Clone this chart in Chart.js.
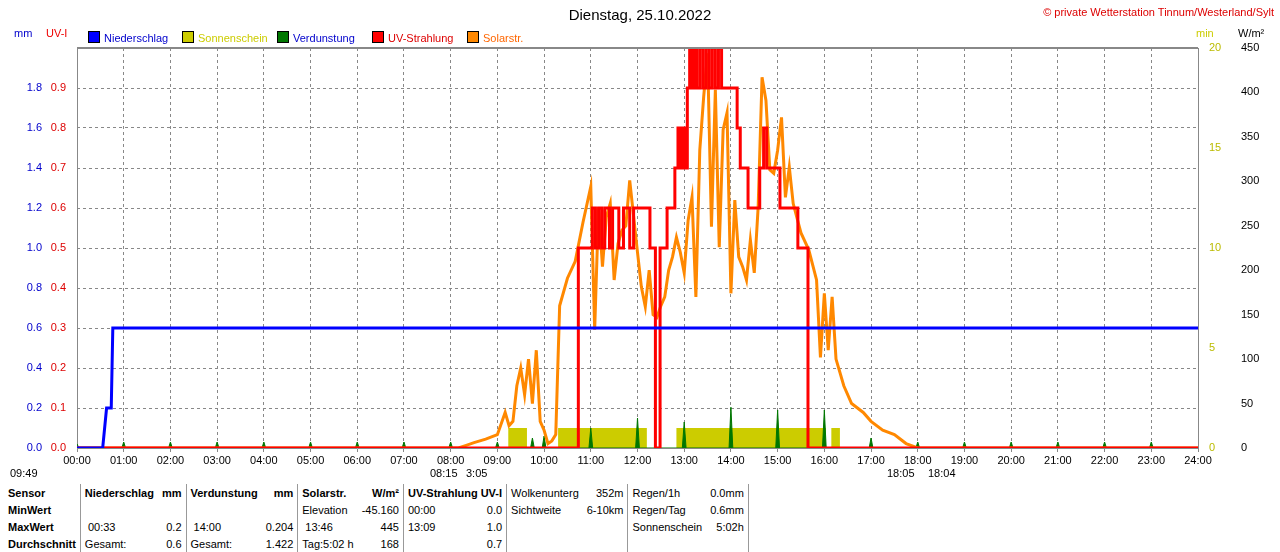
<!DOCTYPE html>
<html><head><meta charset="utf-8">
<script src="https://cdn.jsdelivr.net/npm/chart.js@4.4.0/dist/chart.umd.min.js"></script>
<style>
body{margin:0;background:#fff;font-family:"Liberation Sans",Arial,sans-serif;font-size:11px;color:#000;width:1280px;height:552px;overflow:hidden;position:relative}
#wrap{position:absolute;left:0;top:0;width:1280px;height:472px}
.t{position:absolute;white-space:nowrap}
table{position:absolute;left:4px;top:484px;border-collapse:collapse;font-size:11px}
td{padding:0 4px;height:17px;white-space:nowrap}
.b{font-weight:bold}
.sep{border-left:1px solid #999}
.r{text-align:right}
.lg{display:inline-block;width:10px;height:10px;border:1px solid #000;vertical-align:-1px;margin-right:4px}
</style></head><body>
<div id="wrap"><canvas id="c" width="1280" height="472"></canvas></div>
<div class="t" style="left:0;width:1280px;text-align:center;top:6px;font-size:15px">Dienstag, 25.10.2022</div>
<div class="t" style="right:6px;top:6px;color:#d00;font-size:11px">© private Wetterstation Tinnum/Westerland/Sylt</div>
<div class="t" style="left:14px;top:27px;color:#00c">mm</div>
<div class="t" style="left:46px;top:27px;color:#e00">UV-I</div>
<div class="t" style="left:1196px;top:27px;color:#cc0">min</div>
<div class="t" style="left:1238px;top:27px;color:#000">W/m²</div>
<div class="t" style="left:88px;top:31px;color:#0000cc"><span class="lg" style="background:#0000ff"></span>Niederschlag</div>
<div class="t" style="left:182px;top:31px;color:#cccc00"><span class="lg" style="background:#cccc00"></span>Sonnenschein</div>
<div class="t" style="left:277px;top:31px;color:#0000cc"><span class="lg" style="background:#007700"></span>Verdunstung</div>
<div class="t" style="left:372px;top:31px;color:#dd0000"><span class="lg" style="background:#ff0000"></span>UV-Strahlung</div>
<div class="t" style="left:467px;top:31px;color:#ff6600"><span class="lg" style="background:#ff8800"></span>Solarstr.</div>
<div class="t" style="left:10px;top:467px">09:49</div>
<div class="t" style="left:430px;top:467px">08:15</div>
<div class="t" style="left:466px;top:467px">3:05</div>
<div class="t" style="left:887px;top:467px">18:05</div>
<div class="t" style="left:928px;top:467px">18:04</div>
<table>
<tr class="b"><td>Sensor</td><td class="sep">Niederschlag</td><td class="r">mm</td><td class="sep">Verdunstung</td><td class="r">mm</td><td class="sep">Solarstr.</td><td class="r">W/m²</td><td class="sep" colspan="2">UV-Strahlung UV-I</td><td class="sep" style="font-weight:normal">Wolkenunterg</td><td class="r" style="font-weight:normal">352m</td><td class="sep" style="font-weight:normal">Regen/1h</td><td class="r" style="font-weight:normal">0.0mm</td><td class="sep"></td></tr>
<tr><td class="b">MinWert</td><td class="sep"></td><td></td><td class="sep"></td><td></td><td class="sep">Elevation</td><td class="r">-45.160</td><td class="sep">00:00</td><td class="r">0.0</td><td class="sep">Sichtweite</td><td class="r">6-10km</td><td class="sep">Regen/Tag</td><td class="r">0.6mm</td><td class="sep"></td></tr>
<tr><td class="b">MaxWert</td><td class="sep">&nbsp;00:33</td><td class="r">0.2</td><td class="sep">&nbsp;14:00</td><td class="r">0.204</td><td class="sep">&nbsp;13:46</td><td class="r">445</td><td class="sep">13:09</td><td class="r">1.0</td><td class="sep"></td><td></td><td class="sep">Sonnenschein</td><td class="r">5:02h</td><td class="sep"></td></tr>
<tr><td class="b">Durchschnitt</td><td class="sep">Gesamt:</td><td class="r">0.6</td><td class="sep">Gesamt:</td><td class="r">1.422</td><td class="sep">Tag:5:02 h</td><td class="r">168</td><td class="sep"></td><td class="r">0.7</td><td class="sep"></td><td></td><td class="sep"></td><td></td><td class="sep"></td></tr>
</table>
<script>
// Precipitation (mm)
const rainTimes = ["00:00","00:33","00:38","00:40","00:44","00:46","24:00"];
const rainValues = [0,0,0.2,0.2,0.2,0.6,0.6];
// Sunshine (min per interval)
const sunTimes = ["00:00","09:14","09:38","10:18","12:12","12:50","16:02","16:09","16:20","24:00"];
const sunValues = [0,1,0,1,0,1,0,1,0,0];
// Evaporation spikes (mm)
const evapTimes = ["00:00","01:00","02:00","03:00","04:00","05:00","06:00","07:00","08:00","09:00","09:45","10:00","11:00","12:00","13:00","14:00","15:00","16:00","17:00","18:00","19:00","20:00","21:00","22:00","23:00"];
const evapValues = [0.02,0.03,0.03,0.03,0.03,0.03,0.03,0.03,0.03,0.03,0.05,0.06,0.1,0.15,0.13,0.204,0.19,0.19,0.05,0.03,0.03,0.03,0.03,0.03,0.03];
// UV index, stepped
const uvTimes = ["00:00","10:44","11:02","11:06","11:10","11:14","11:18","11:24","11:28","11:36","11:42","11:50","11:55","12:00","12:16","12:23","12:29","12:38","12:48","12:52","12:55","12:58","13:01","13:04","13:07","13:10","13:13","13:16","13:20","13:24","13:28","13:32","13:36","13:40","13:44","13:48","14:08","14:12","14:22","14:37","14:42","14:46","14:50","15:03","15:26","15:39","24:00"];
const uvValues = [0,0.5,0.6,0.5,0.6,0.5,0.6,0.5,0.6,0.5,0.6,0.5,0.6,0.6,0.5,0,0.5,0.6,0.7,0.8,0.7,0.8,0.7,0.9,1.0,0.9,1.0,0.9,1.0,0.9,1.0,0.9,1.0,0.9,1.0,0.9,0.8,0.7,0.6,0.7,0.8,0.7,0.7,0.6,0.5,0,0];
// Solar radiation W/m²
const solarTimes = ["00:00","08:10","08:20","08:30","08:45","09:00","09:10","09:15","09:20","09:25","09:30","09:35","09:40","09:45","09:50","09:55","10:00","10:05","10:10","10:15","10:20","10:30","10:40","10:50","11:00","11:05","11:10","11:15","11:20","11:25","11:30","11:35","11:40","11:45","11:50","12:00","12:05","12:10","12:15","12:20","12:25","12:30","12:35","12:40","12:45","12:50","12:55","13:00","13:05","13:10","13:15","13:20","13:25","13:30","13:35","13:40","13:45","13:50","13:55","14:00","14:05","14:10","14:15","14:20","14:25","14:30","14:35","14:40","14:45","14:50","14:55","15:00","15:05","15:10","15:15","15:20","15:30","15:40","15:50","15:55","16:00","16:05","16:10","16:15","16:20","16:25","16:35","16:50","17:00","17:15","17:30","17:45","18:00","24:00"];
const solarValues = [0,0,3,6,10,15,40,25,30,70,90,60,100,50,110,30,20,5,8,15,160,191,210,254,294,133,271,204,260,275,189,230,245,250,301,220,181,159,200,150,147,160,170,200,215,237,220,197,256,282,170,335,395,444,249,403,226,358,377,174,279,215,204,189,234,197,271,417,391,313,309,335,372,282,316,275,242,223,189,102,174,110,170,100,85,70,50,40,30,20,15,5,0,0];

function toH(s){const p=s.split(":");return +p[0]+p[1]/60;}
const pts=(t,v)=>t.map((s,i)=>({x:toH(s),y:v[i]}));
const evapPts=[];evapTimes.forEach((s,i)=>{const h=toH(s);evapPts.push({x:h-0.04,y:0},{x:h,y:evapValues[i]},{x:h+0.04,y:0});});
const hourLabels=[];for(let i=0;i<=24;i++)hourLabels.push(String(i).padStart(2,"0")+":00");

const fixW=w=>function(a){a.width=w;};
const F={size:11,family:"Liberation Sans"};
new Chart(document.getElementById("c"),{
 data:{datasets:[
  {type:"line",data:pts(sunTimes,sunValues),yAxisID:"ymin",stepped:true,borderWidth:0,backgroundColor:"#cccc00",fill:"origin",pointRadius:0,order:5},
  {type:"line",data:evapPts,yAxisID:"ymm",borderColor:"#007700",borderWidth:1,backgroundColor:"#007700",fill:"origin",pointRadius:0,tension:0,order:4},
  {type:"line",data:pts(solarTimes,solarValues),yAxisID:"yw",borderColor:"#ff8800",borderWidth:3,pointRadius:0,tension:0,order:3},
  {type:"line",data:pts(uvTimes,uvValues),yAxisID:"yuv",stepped:true,borderColor:"#ff0000",borderWidth:3,pointRadius:0,order:2},
  {type:"line",data:pts(rainTimes,rainValues),yAxisID:"ymm",borderColor:"#0000ff",borderWidth:3,pointRadius:0,order:1}
 ]},
 options:{responsive:false,animation:false,layout:{padding:{top:48,bottom:0,left:0,right:0}},
  plugins:{legend:{display:false},tooltip:{enabled:false}},
  scales:{
   x:{type:"linear",min:0,max:24,afterBuildTicks:a=>{a.ticks=hourLabels.map((l,i)=>({value:i}));},
      ticks:{callback:v=>hourLabels[v],color:"#000",font:F,maxRotation:0,autoSkip:false,padding:2},
      grid:{color:"#888",tickLength:4},border:{display:true,color:"#888",dash:[3,3]},afterFit:a=>{a.height=24;}},
   yuv:{position:"left",min:0,max:1,ticks:{stepSize:0.1,color:"#dd0000",font:F,callback:v=>v>=0.99?"":v.toFixed(1)},
      grid:{display:false},border:{display:true,color:"#888"},afterFit:fixW(32)},
   ymm:{position:"left",min:0,max:2,ticks:{stepSize:0.2,color:"#0000cc",font:F,callback:v=>v>=1.99?"":v.toFixed(1)},
      grid:{color:"#888",tickLength:0},border:{dash:[3,3],display:false},afterFit:fixW(45)},
   ymin:{position:"right",min:0,max:20,ticks:{stepSize:5,color:"#bbbb00",font:F},
      grid:{display:false},border:{display:true,color:"#888"},afterFit:fixW(32)},
   yw:{position:"right",min:0,max:450,ticks:{stepSize:50,color:"#000",font:F},
      grid:{display:false},border:{display:false},afterFit:fixW(50)}
  }},
 plugins:[{id:"frame",afterDraw(c){const a=c.chartArea,x=c.ctx;x.save();x.strokeStyle="#888";x.lineWidth=2;x.beginPath();x.moveTo(a.left,a.top);x.lineTo(a.right,a.top);x.stroke();x.restore();}}]
});
</script>
</body></html>
